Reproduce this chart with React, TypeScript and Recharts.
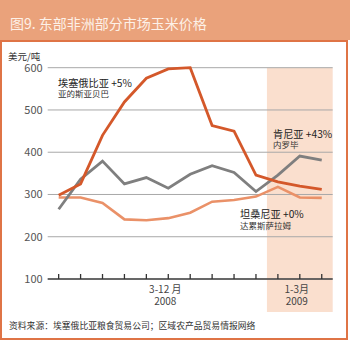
import {
  LineChart,
  Line,
  XAxis,
  YAxis,
  CartesianGrid,
  ReferenceArea,
} from "recharts";

const months = [0, 1, 2, 3, 4, 5, 6, 7, 8, 9, 10, 11, 12];
const ethiopia = [298, 325, 440, 519, 575, 597, 600, 463, 450, 346, 330, 320, 312];
const kenya = [265, 336, 379, 325, 340, 315, 348, 368, 352, 307, 346, 391, 381];
const tanzania = [293, 293, 280, 241, 239, 244, 257, 283, 287, 295, 318, 293, 292];
const yTicks = [100, 200, 300, 400, 500, 600];
const periodLabels: Record<number, [string, string]> = {
  5: ["3-12 月", "2008"],
  11: ["1-3月", "2009"],
};

const data = months.map((m, i) => ({
  m,
  ethiopia: ethiopia[i],
  kenya: kenya[i],
  tanzania: tanzania[i],
}));

const font = '"Noto Sans CJK SC", "Noto Sans", sans-serif';

const MonthTick = (props: any) => {
  const { x, y, payload } = props;
  const label = periodLabels[payload.value];
  return (
    <g>
      <line x1={x} x2={x} y1={y - 5} y2={y} stroke="#333" strokeWidth={1.3} />
      {label && (
        <text x={x - 3} y={y} textAnchor="middle" fontSize={10} fill="#444" fontFamily={font}>
          <tspan x={x - 3} dy={14}>{label[0]}</tspan>
          <tspan x={x - 3} dy={12}>{label[1]}</tspan>
        </text>
      )}
    </g>
  );
};

// annotation block: two lines, no overlap between line boxes
const note = (x: number, y: number, main: string, sub: string) => (
  <div style={{ position: "absolute", left: x, top: y, fontFamily: font, color: "#222", whiteSpace: "nowrap" }}>
    <div style={{ fontSize: 10.2, lineHeight: "10.5px", height: 10.5 }}>{main}</div>
    <div style={{ fontSize: 8.5, lineHeight: "10.5px", height: 10.5, color: "#333" }}>{sub}</div>
  </div>
);

export default function App() {
  return (
    <div style={{ position: "absolute", left: 0, top: 0, width: 350, height: 341, background: "#fff", overflow: "hidden" }}>
      <div
        style={{
          position: "absolute",
          left: 0,
          top: 0,
          width: 350,
          height: 40,
          background: "#EAA27B",
        }}
      >
        <div style={{ position: "absolute", left: 10, top: 13, fontSize: 14, lineHeight: "20px", color: "#FDF1E8", fontFamily: font }}>
          图9. 东部非洲部分市场玉米价格
        </div>
      </div>
      <div
        style={{
          position: "absolute",
          left: 0,
          top: 40,
          width: 344,
          height: 296,
          border: "2px solid #DF7446",
        }}
      />
      <div style={{ position: "absolute", left: 8, top: 51.5, fontSize: 9.5, lineHeight: "9.5px", color: "#333", fontFamily: font }}>美元/吨</div>
      <div style={{ position: "absolute", left: 0, top: 0 }}>
        <LineChart
          width={350}
          height={341}
          data={data}
          margin={{ top: 67.7, right: 17.3, bottom: 22, left: 0 }}
        >
          <ReferenceArea
            x1={9.5}
            x2={12.5}
            y1={22}
            y2={600}
            fill="#FADFCE"
            fillOpacity={1}
            stroke="none"
            ifOverflow="visible"
            zIndex={-200}
          />
          <CartesianGrid horizontal vertical={false} stroke="#A8A8A8" strokeWidth={1} />
          <XAxis
            dataKey="m"
            type="number"
            domain={[-0.5, 12.5]}
            ticks={months}
            interval={0}
            height={40}
            tickSize={0}
            tickMargin={0}
            tickLine={false}
            axisLine={{ stroke: "#444", strokeWidth: 1.6 }}
            tick={<MonthTick />}
          />
          <YAxis
            domain={[100, 600]}
            ticks={yTicks}
            width={47.7}
            tickSize={0}
            tickMargin={5}
            axisLine={false}
            tickLine={false}
            tick={{ fontSize: 11, fill: "#555", fontFamily: font }}
          />
          <Line type="linear" dataKey="tanzania" stroke="#EA9168" strokeWidth={2.6} dot={false} isAnimationActive={false} />
          <Line type="linear" dataKey="kenya" stroke="#7F7F7F" strokeWidth={2.8} dot={false} isAnimationActive={false} />
          <Line type="linear" dataKey="ethiopia" stroke="#D4582A" strokeWidth={2.8} dot={false} isAnimationActive={false} />
        </LineChart>
      </div>
      {note(58, 77.5, "埃塞俄比亚 +5%", "亚的斯亚贝巴")}
      {note(273, 128.5, "肯尼亚 +43%", "内罗毕")}
      {note(240, 209, "坦桑尼亚 +0%", "达累斯萨拉姆")}
      <div style={{ position: "absolute", left: 9, top: 320, fontSize: 8.8, lineHeight: "11px", color: "#333", fontFamily: font, whiteSpace: "nowrap" }}>
        资料来源：埃塞俄比亚粮食贸易公司；区域农产品贸易情报网络
      </div>
    </div>
  );
}
